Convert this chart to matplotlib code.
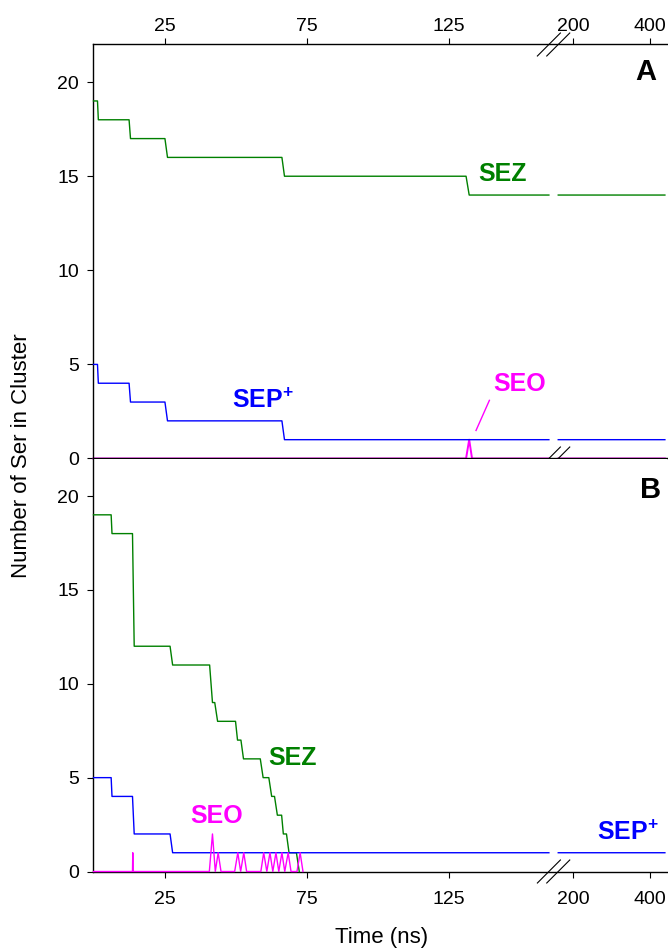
import numpy as np
import matplotlib
matplotlib.use('Agg')
import matplotlib.pyplot as plt

plt.rcParams['font.family'] = ['Liberation Sans', 'DejaVu Sans']
plt.rcParams['mathtext.fontset'] = 'custom'
plt.rcParams['mathtext.rm'] = 'Liberation Sans'
plt.rcParams['mathtext.bf'] = 'Liberation Sans:bold'

nan = np.nan

# ---- panel A (time in ns, number of Ser) ----
sez_a_t = [0, 1.4, 1.7, 12.5, 13.0, 25.1, 26.0, 66.2, 67.1, 130.9, 132.0, 160, nan, 175.3, 440]
sez_a_n = [19, 19, 18, 18, 17, 17, 16, 16, 15, 15, 14, 14, nan, 14, 14]
sep_a_t = [0, 1.4, 1.7, 12.5, 13.0, 25.1, 26.0, 66.2, 67.1, 160, nan, 175.3, 440]
sep_a_n = [5, 5, 4, 4, 3, 3, 2, 2, 1, 1, nan, 1, 1]
seo_a_t = [0, 130.9, 132.0, 133.0, 160, nan, 175.3, 440]
seo_a_n = [0, 0, 1, 0, 0, nan, 0, 0]

# ---- panel B ----
sez_b_t = [0, 6.2, 6.5, 13.7, 14.3, 26.9, 27.8, 40.8, 41.8, 42.6, 43.6, 49.9, 50.6, 51.8,
           52.7, 58.6, 59.6, 61.6, 62.6, 63.6, 64.6, 66.1, 66.7, 67.8, 68.7, 71.3, 72.3]
sez_b_n = [19, 19, 18, 18, 12, 12, 11, 11, 9, 9, 8, 8, 7, 7,
           6, 6, 5, 5, 4, 4, 3, 3, 2, 2, 1, 1, 0]
sep_b_t = [0, 6.2, 6.5, 13.7, 14.3, 26.9, 27.8, 160, nan, 175.3, 440]
sep_b_n = [5, 5, 4, 4, 2, 2, 1, 1, nan, 1, 1]
seo_b_t = [0, 13.7, 13.8, 13.9, 40.7, 41.8, 42.8, 43.8, 44.8, 49.6, 50.7, 51.7, 52.8, 53.8,
           58.8, 59.8, 60.9, 62.0, 63.0, 64.1, 65.1, 66.2, 67.2, 68.4, 69.4, 71.5, 72.6, 73.6]
seo_b_n = [0, 0, 1, 0, 0, 2, 0, 1, 0, 0, 1, 0, 1, 0,
           0, 1, 0, 1, 0, 1, 0, 1, 0, 1, 0, 0, 1, 0]

xticks = [25, 75, 125, 200, 400]
yticks = [0, 5, 10, 15, 20]
break_t = [160, 175.3]

# broken time axis: linear 0-160, compressed after the break
knot_t = [-1000, 0, 160, 200, 400, 2000]
knot_u = [-1000, 0, 160, 168.6, 195.4, 409.8]

def fwd(t):
    return np.interp(t, knot_t, knot_u)

def inv(u):
    return np.interp(u, knot_u, knot_t)

green = '#008000'
blue = '#0000ff'
magenta = '#ff00ff'

fig = plt.figure(figsize=(6.68, 9.49), dpi=100)
axA = fig.add_axes([0.13997, 0.51686, 0.85823, 0.43625])
axB = fig.add_axes([0.13997, 0.08166, 0.85823, 0.43519])

for ax in (axA, axB):
    ax.set_xscale('function', functions=(fwd, inv))
    ax.set_xlim(0, 445)
    ax.set_ylim(0, 22)
    ax.set_xticks(xticks)
    ax.set_xticklabels([str(x) for x in xticks])
    ax.set_yticks(yticks)
    ax.spines['right'].set_visible(False)
    for s in ax.spines.values():
        s.set_linewidth(1.0)
    ax.tick_params(axis='y', direction='out', length=4, width=0.8, pad=6.5, labelsize=14)
    ax.minorticks_off()

axA.xaxis.tick_top()
axA.tick_params(axis='x', direction='out', length=4, width=0.8, pad=3, labelsize=14)
axB.spines['top'].set_visible(False)
axB.tick_params(axis='x', direction='out', length=4, width=0.8, pad=10, labelsize=14)

lw = 1.0
axA.plot(sez_a_t, sez_a_n, color=green, lw=lw, clip_on=False, zorder=3)
axA.plot(sep_a_t, sep_a_n, color=blue, lw=lw, clip_on=False, zorder=3)
# SEO baseline in A sits under the black zero line
axA.plot(seo_a_t, seo_a_n, color=magenta, lw=1.4, clip_on=False, zorder=2)

axB.plot(sez_b_t, sez_b_n, color=green, lw=lw, clip_on=False, zorder=3)
axB.plot(sep_b_t, sep_b_n, color=blue, lw=lw, clip_on=False, zorder=3)
axB.plot(seo_b_t, seo_b_n, color=magenta, lw=lw, clip_on=False, zorder=3)

# series labels
axA.text(143.8, 15.1, 'SEZ', color=green, fontsize=18, fontweight='bold', ha='center', va='center')
axA.text(48.8, 2.71, r'$\mathbf{SEP^{+}}$', color=blue, fontsize=18, ha='left', va='baseline')
axA.text(149.8, 3.94, 'SEO', color=magenta, fontsize=18, fontweight='bold', ha='center', va='center')
axA.plot([139.1, 134.4], [3.09, 1.49], color=magenta, lw=1.0)
axA.text(0.963, 0.933, 'A', transform=axA.transAxes, fontsize=21, fontweight='bold',
         ha='center', va='center')

axB.text(69.8, 6.04, 'SEZ', color=green, fontsize=18, fontweight='bold', ha='center', va='center')
axB.text(43.3, 2.94, 'SEO', color=magenta, fontsize=18, fontweight='bold', ha='center', va='center')
axB.text(261, 1.69, r'$\mathbf{SEP^{+}}$', color=blue, fontsize=18, ha='left', va='baseline')
axB.text(0.972, 0.923, 'B', transform=axB.transAxes, fontsize=21, fontweight='bold',
         ha='center', va='center')

# break marks on the time axis
def draw_breaks(ax, yfracs, h_px):
    dx = 11.5 / 573.3
    dy = 11.5 / h_px
    for t in break_t:
        xf = ax.transAxes.inverted().transform(ax.transData.transform((t, 0)))[0]
        for yf in yfracs:
            ax.plot([xf - dx, xf + dx], [yf - dy, yf + dy], color='black', lw=0.8,
                    transform=ax.transAxes, clip_on=False, zorder=4)

draw_breaks(axA, [0, 1], 414.0)
draw_breaks(axB, [0], 413.0)

fig.text(22 / 668, 0.52, 'Number of Ser in Cluster', rotation=90, fontsize=16,
         ha='center', va='center')
fig.text(381.7 / 668, 0.006, 'Time (ns)', fontsize=16, ha='center', va='baseline')

fig.savefig('out.png', dpi=100)
